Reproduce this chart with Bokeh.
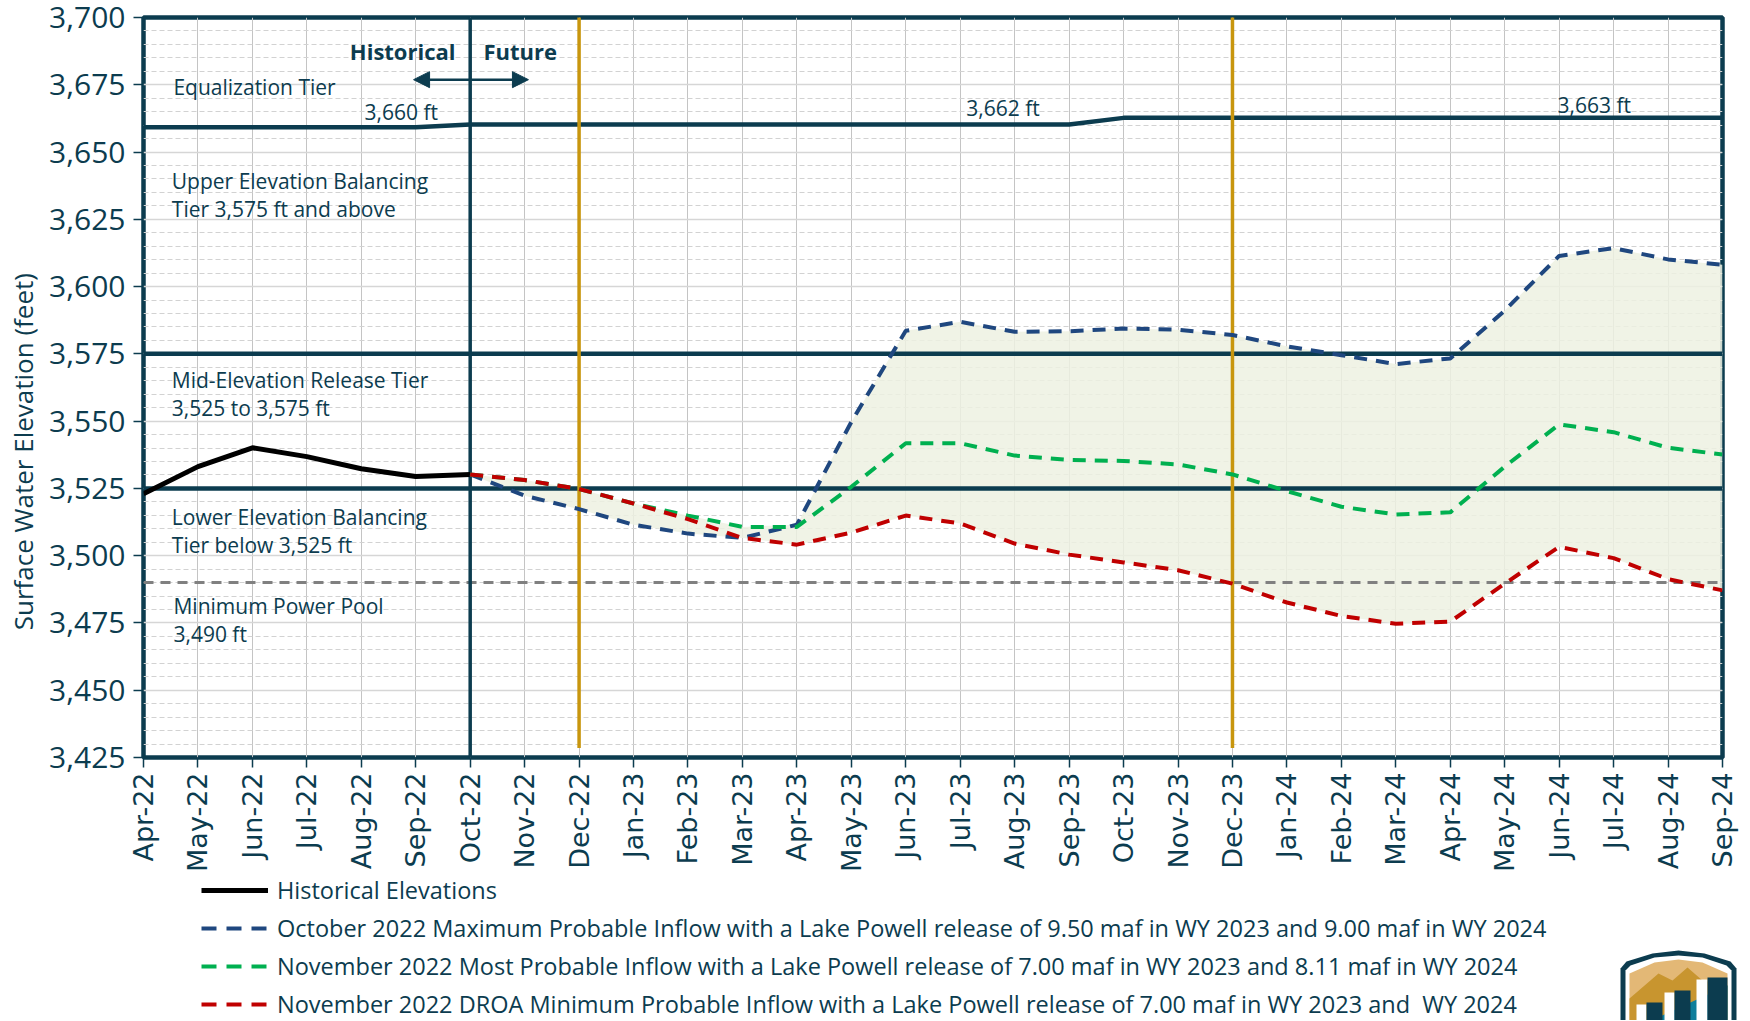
import numpy as np
from bokeh.plotting import figure
from bokeh.layouts import column
from bokeh.models import (Range1d, FixedTicker, SingleIntervalTicker, Legend, LegendItem,
                          Label, Arrow, NormalHead, NumeralTickFormatter)
from bokeh.embed import file_html
from bokeh.resources import INLINE

# ---------------- data ----------------
months = ["Apr-22", "May-22", "Jun-22", "Jul-22", "Aug-22", "Sep-22", "Oct-22", "Nov-22", "Dec-22",
          "Jan-23", "Feb-23", "Mar-23", "Apr-23", "May-23", "Jun-23", "Jul-23", "Aug-23", "Sep-23",
          "Oct-23", "Nov-23", "Dec-23", "Jan-24", "Feb-24", "Mar-24", "Apr-24", "May-24", "Jun-24",
          "Jul-24", "Aug-24", "Sep-24"]

historical_months = ["Apr-22", "May-22", "Jun-22", "Jul-22", "Aug-22", "Sep-22", "Oct-22"]
historical = [3523.0, 3533.1, 3540.1, 3536.8, 3532.3, 3529.4, 3530.2]

forecast_months = ["Oct-22", "Nov-22", "Dec-22", "Jan-23", "Feb-23", "Mar-23", "Apr-23", "May-23",
                   "Jun-23", "Jul-23", "Aug-23", "Sep-23", "Oct-23", "Nov-23", "Dec-23", "Jan-24",
                   "Feb-24", "Mar-24", "Apr-24", "May-24", "Jun-24", "Jul-24", "Aug-24", "Sep-24"]
max_probable = [3530.2, 3522.3, 3517.3, 3511.5, 3508.2, 3506.6, 3511.5, 3549.7,
                3583.6, 3586.9, 3583.2, 3583.4, 3584.4, 3584.0, 3582.0, 3577.8,
                3574.5, 3571.2, 3573.3, 3591.1, 3611.4, 3614.3, 3610.1, 3608.1]
most_probable = [3530.2, 3528.1, 3524.8, 3519.4, 3514.9, 3510.7, 3510.7, 3525.6,
                 3541.8, 3541.8, 3537.2, 3535.6, 3535.2, 3533.9, 3530.2, 3524.0,
                 3518.2, 3515.3, 3516.1, 3533.1, 3548.8, 3545.9, 3540.1, 3537.6]
min_probable = [3530.2, 3528.1, 3524.8, 3519.4, 3513.6, 3506.6, 3504.1, 3508.6,
                3514.9, 3512.0, 3504.5, 3500.4, 3497.5, 3494.6, 3489.6, 3482.6,
                3477.6, 3474.7, 3475.5, 3489.6, 3503.3, 3499.1, 3491.3, 3487.1]

equalization_tier = [3659.2, 3659.2, 3659.2, 3659.2, 3659.2, 3659.2,
                     3660.2, 3660.2, 3660.2, 3660.2, 3660.2, 3660.2,
                     3660.2, 3660.2, 3660.2, 3660.2, 3660.2, 3660.2,
                     3662.7, 3662.7, 3662.7, 3662.7, 3662.7, 3662.7,
                     3662.7, 3662.7, 3662.7, 3662.7, 3662.7, 3662.7]
tier_boundaries = [3575, 3525]
min_power_pool = 3490
divider_month = "Oct-22"
yellow_months = ["Dec-22", "Dec-23"]

y_ticks = [3425, 3450, 3475, 3500, 3525, 3550, 3575, 3600, 3625, 3650, 3675, 3700]

legend_labels = [
    "Historical Elevations",
    "October 2022 Maximum Probable Inflow with a Lake Powell release of 9.50 maf in WY 2023 and 9.00 maf in WY 2024",
    "November 2022 Most Probable Inflow with a Lake Powell release of 7.00 maf in WY 2023 and 8.11 maf in WY 2024",
    "November 2022 DROA Minimum Probable Inflow with a Lake Powell release of 7.00 maf in WY 2023 and  WY 2024",
]

# ---------------- styles ----------------
TEAL = "#0C3C4F"
GOLD = "#C8960E"
BLUE = "#1F477F"
GREEN = "#00B050"
RED = "#C00000"
GRAY = "#808080"
FILL = "#EDF1E2"
FONT = "Open Sans"
DASH = "13 9"

idx = {m: i for i, m in enumerate(months)}
hx = [idx[m] for m in historical_months]
fx = [idx[m] for m in forecast_months]
mx = list(range(len(months)))

p = figure(width=1742, height=874, output_backend="svg", toolbar_location=None,
           x_range=Range1d(0, len(months) - 1), y_range=Range1d(y_ticks[0], y_ticks[-1]),
           min_border_left=143, min_border_right=20, min_border_top=17, min_border_bottom=116)
p.background_fill_color = "white"
p.border_fill_color = "white"
p.outline_line_color = TEAL
p.outline_line_width = 4.5

# axes
p.xaxis.ticker = FixedTicker(ticks=mx)
p.xaxis.major_label_overrides = {i: m for i, m in enumerate(months)}
p.xaxis.major_label_orientation = np.pi / 2
p.xaxis.major_label_text_font = "DejaVu Sans"
p.xaxis.major_label_text_font_size = "27px"
p.xaxis.major_label_text_color = TEAL
p.xaxis.major_label_standoff = 5

p.yaxis.ticker = SingleIntervalTicker(interval=25, num_minor_ticks=5)
p.yaxis.formatter = NumeralTickFormatter(format="0,0")
p.yaxis.major_label_text_font = FONT
p.yaxis.major_label_text_font_size = "30px"
p.yaxis.major_label_text_color = TEAL
p.yaxis.major_label_standoff = 8
p.yaxis.axis_label = "Surface Water Elevation (feet)" + "\u00a0" * 19
p.yaxis.axis_label_text_font = FONT
p.yaxis.axis_label_text_font_size = "26px"
p.yaxis.axis_label_text_font_style = "normal"
p.yaxis.axis_label_text_color = TEAL
p.yaxis.axis_label_standoff = 5

for ax in (p.xaxis, p.yaxis):
    ax.axis_line_color = None
    ax.major_tick_line_color = TEAL
    ax.major_tick_line_width = 1.5
    ax.major_tick_out = 10
    ax.major_tick_in = 0
    ax.minor_tick_line_color = None

# grids
p.xgrid.ticker = FixedTicker(ticks=mx)
p.xgrid.grid_line_color = "#C4C4C4"
p.xgrid.grid_line_width = 1
p.ygrid.grid_line_color = "#D6D6D6"
p.ygrid.grid_line_width = 1.5
p.ygrid.minor_grid_line_color = "#D2D2D2"
p.ygrid.minor_grid_line_width = 1
p.ygrid.minor_grid_line_dash = "5 3"

# shaded range of forecasts
upper = np.maximum.reduce([np.array(max_probable), np.array(most_probable), np.array(min_probable)])
lower = np.minimum.reduce([np.array(max_probable), np.array(most_probable), np.array(min_probable)])
p.varea(x=fx, y1=lower, y2=upper, fill_color=FILL, fill_alpha=0.85)

# minimum power pool
p.segment(x0=[0], y0=[min_power_pool], x1=[len(months) - 1], y1=[min_power_pool],
          line_color=GRAY, line_width=3, line_dash="10 7")

# tier boundaries
p.segment(x0=[0] * len(tier_boundaries), y0=tier_boundaries,
          x1=[len(months) - 1] * len(tier_boundaries), y1=tier_boundaries,
          line_color=TEAL, line_width=4.5)
p.line(mx, equalization_tier, line_color=TEAL, line_width=4.5)

# historical / future divider
p.segment(x0=[idx[divider_month]], y0=[y_ticks[0]], x1=[idx[divider_month]], y1=[y_ticks[-1]],
          line_color=TEAL, line_width=3.5)

# yellow lines
yx = [idx[m] for m in yellow_months]
p.segment(x0=yx, y0=[3428.5] * len(yx), x1=yx, y1=[3701] * len(yx),
          line_color=GOLD, line_width=3.5)

# series
p.line(hx, historical, line_color="black", line_width=5)
p.line(fx, max_probable, line_color=BLUE, line_width=4, line_dash=DASH)
p.line(fx, most_probable, line_color=GREEN, line_width=4, line_dash=DASH)
p.line(fx, min_probable, line_color=RED, line_width=4, line_dash=DASH)

# annotations
def lab(x, y, text, size="21px", style="normal", align="left"):
    p.add_layout(Label(x=x, y=y, text=text, text_font=FONT, text_font_size=size,
                       text_font_style=style, text_color=TEAL, text_baseline="middle",
                       text_align=align))

lab(4.76, 3687.6, "Historical", size="22px", style="bold", align="center")
lab(6.92, 3687.6, "Future", size="22px", style="bold", align="center")
lab(0.55, 3674.3, "Equalization Tier")
lab(4.06, 3664.8, "3,660 ft")
lab(15.11, 3666.5, "3,662 ft")
lab(25.97, 3667.6, "3,663 ft")
lab(0.52, 3639.1, "Upper Elevation Balancing")
lab(0.52, 3628.7, "Tier 3,575 ft and above")
lab(0.52, 3565.4, "Mid-Elevation Release Tier")
lab(0.52, 3554.7, "3,525 to 3,575 ft")
lab(0.52, 3514.2, "Lower Elevation Balancing")
lab(0.52, 3504.1, "Tier below 3,525 ft")
lab(0.55, 3481.4, "Minimum Power Pool")
lab(0.55, 3471.0, "3,490 ft")

p.add_layout(Arrow(start=NormalHead(size=16, fill_color=TEAL, line_color=TEAL),
                   end=NormalHead(size=16, fill_color=TEAL, line_color=TEAL),
                   x_start=4.96, y_start=3676.9, x_end=7.07, y_end=3676.9,
                   line_color=TEAL, line_width=2.5))

# ---------------- legend strip (page pixel coordinates) ----------------
q = figure(width=1742, height=146, output_backend="svg", toolbar_location=None,
           x_range=Range1d(0, 1742), y_range=Range1d(1020, 874),
           x_axis_location=None, y_axis_location=None,
           min_border_left=0, min_border_right=0, min_border_top=0, min_border_bottom=0)
q.frame_align = False
q.grid.visible = False
q.outline_line_color = None
q.background_fill_color = "white"
q.border_fill_color = "white"

# off-frame stand-ins that carry the legend glyph styles
l_hist = q.line([-10, -5], [0, 0], line_color="black", line_width=5)
l_max = q.line([-10, -5], [0, 0], line_color=BLUE, line_width=4, line_dash="15 10")
l_most = q.line([-10, -5], [0, 0], line_color=GREEN, line_width=4, line_dash="15 10")
l_min = q.line([-10, -5], [0, 0], line_color=RED, line_width=4, line_dash="15 10")

legend = Legend(items=[LegendItem(label=legend_labels[0], renderers=[l_hist]),
                       LegendItem(label=legend_labels[1], renderers=[l_max]),
                       LegendItem(label=legend_labels[2], renderers=[l_most]),
                       LegendItem(label=legend_labels[3], renderers=[l_min])],
                location=(201, 0), orientation="vertical",
                border_line_alpha=0, background_fill_alpha=0,
                label_text_font=FONT, label_text_font_size="23.5px", label_text_color=TEAL,
                glyph_width=67, glyph_height=28, label_height=28, label_standoff=9,
                spacing=6, padding=0, margin=0)
q.add_layout(legend)

# agency logo (decorative, partly cut off at the bottom edge as in the source)
q.patch([1620, 1620, 1626, 1652, 1678, 1704, 1730, 1736, 1736],
        [1030, 968, 961, 953, 950, 953, 961, 968, 1030], fill_color=TEAL, line_color=None)
q.patch([1625, 1625, 1630, 1654, 1678, 1702, 1726, 1731, 1731],
        [1030, 970, 965, 957, 955, 957, 965, 970, 1030], fill_color="white", line_color=None)
q.patch([1629, 1629, 1654, 1678, 1702, 1727, 1727],
        [1030, 973, 962, 959, 962, 973, 1030], fill_color="#E3B876", line_color=None)
q.patch([1629, 1658, 1672, 1687, 1702, 1727, 1727, 1629],
        [998, 973, 980, 967, 980, 985, 1030, 1030], fill_color="#C8952F", line_color=None)
q.patch([1629, 1727, 1727, 1629], [1030, 985, 1030, 1030], fill_color="#0E7E9B", line_color=None)
q.quad(left=[1636, 1664, 1696], right=[1646, 1674, 1707], top=[1004, 992, 979],
       bottom=[1030, 1030, 1030], fill_color="white", line_color=None)
q.quad(left=[1646, 1674, 1707], right=[1662, 1690, 1727], top=[1002, 990, 977],
       bottom=[1030, 1030, 1030], fill_color=TEAL, line_color=None)

open("out.html", "w").write(file_html(column(p, q, spacing=0), INLINE))
